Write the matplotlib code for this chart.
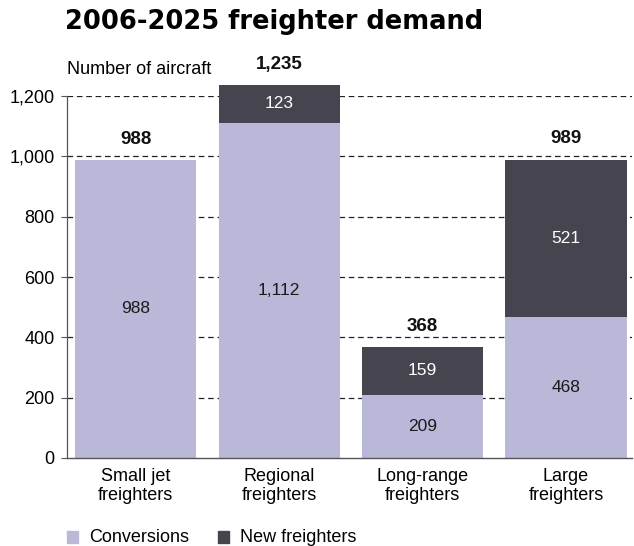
import matplotlib
matplotlib.use("Agg")
import matplotlib.pyplot as plt
from matplotlib.patches import Rectangle

categories = ["Small jet\nfreighters", "Regional\nfreighters", "Long-range\nfreighters", "Large\nfreighters"]
conversions = [988, 1112, 209, 468]
new_freighters = [0, 123, 159, 521]
totals = [988, 1235, 368, 989]
y_ticks = [0, 200, 400, 600, 800, 1000, 1200]

light = "#b9b8d9"
dark = "#46444f"
plt.rcParams["font.family"] = ["Liberation Sans", "DejaVu Sans"]

fig = plt.figure(figsize=(6.34, 5.46), dpi=100)
ax = fig.add_axes([67 / 634, 1 - 458 / 546, (632 - 67) / 634, (458 - 96) / 546])

x = range(len(categories))
w = 0.845
ax.bar(x, conversions, width=w, color=light, zorder=2, clip_on=False)
ax.bar(x, new_freighters, width=w, bottom=conversions, color=dark, zorder=2, clip_on=False)

for i in x:
    c, n, t = conversions[i], new_freighters[i], totals[i]
    ax.text(i, c / 2, f"{c:,}", ha="center", va="center", fontsize=12.5, color="#1a1a1a", zorder=3)
    if n:
        ax.text(i, c + n / 2, f"{n:,}", ha="center", va="center", fontsize=12.5, color="white", zorder=3)
    ax.annotate(f"{t:,}", (i, c + n), xytext=(0, 15), textcoords="offset points",
                ha="center", va="center", fontsize=13.5, fontweight="bold", color="#111111",
                annotation_clip=False)

ax.set_xlim(-0.48, 3.46)
ax.set_ylim(0, 1200)
ax.set_yticks(y_ticks)
ax.set_yticklabels([f"{v:,}" for v in y_ticks], fontsize=13)
ax.set_xticks(list(x))
ax.set_xticklabels(categories, fontsize=13, linespacing=1.2)
ax.tick_params(axis="x", length=0, pad=7)
ax.tick_params(axis="y", length=4, width=0.8, color="#555555", pad=5, direction="out")

for v in y_ticks[1:]:
    ax.axhline(v, color="#222222", lw=0.9, ls=(0, (4.5, 3)), zorder=1)

for s in ["top", "right"]:
    ax.spines[s].set_visible(False)
ax.spines["left"].set_color("#555555")
ax.spines["left"].set_linewidth(0.9)
ax.spines["bottom"].set_color("#555555")
ax.spines["bottom"].set_linewidth(1.0)

fig.text(65 / 634, 1 - 22 / 546, "2006-2025 freighter demand", fontsize=18.5, fontweight="bold",
         family="DejaVu Sans", ha="left", va="center", color="#000000")
fig.text(67 / 634, 1 - 70 / 546, "Number of aircraft", fontsize=13, ha="left", va="center")

# legend
for xs, label, col in [(67, "Conversions", light), (218, "New freighters", dark)]:
    fig.patches.append(Rectangle((xs / 634, 1 - 543 / 546), 11 / 634, 12 / 546,
                                 transform=fig.transFigure, color=col))
    fig.text((xs + 22) / 634, 1 - 537 / 546, label, fontsize=13, ha="left", va="center")

fig.savefig("out.png", dpi=100)
